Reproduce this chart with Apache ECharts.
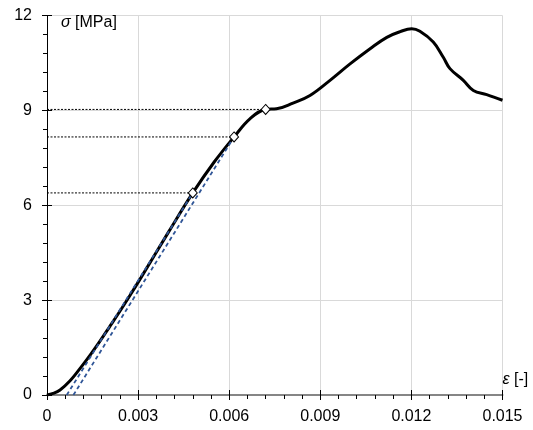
<!DOCTYPE html>
<html>
<head>
<meta charset="utf-8">
<script src="https://cdn.jsdelivr.net/npm/echarts@6/dist/echarts.min.js"></script>
<style>html,body{margin:0;padding:0;background:#fff;}#c{width:533px;height:430px;}</style>
</head>
<body>
<div id="c"></div>
<script>
// Stress-strain curve (strain [-], stress [MPa])
const strain = [0, 0.0002, 0.00043, 0.00076, 0.00109, 0.00142, 0.00175, 0.00207, 0.0024, 0.0027, 0.0031, 0.0040, 0.0048, 0.0055, 0.00616, 0.00669, 0.0072, 0.00756, 0.0081, 0.00866, 0.00932, 0.00998, 0.01064, 0.01119, 0.01163, 0.01201, 0.01228, 0.01272, 0.01305, 0.01327, 0.01371, 0.01404, 0.01448, 0.015];
const stress = [0, 0.05, 0.16, 0.45, 0.84, 1.26, 1.71, 2.17, 2.65, 3.1, 3.72, 5.15, 6.39, 7.36, 8.16, 8.74, 9.03, 9.05, 9.23, 9.47, 9.95, 10.47, 10.95, 11.31, 11.49, 11.58, 11.50, 11.16, 10.68, 10.32, 9.95, 9.63, 9.50, 9.32];
// Marked points
const markStrain = [0.0048, 0.00616, 0.0072];
const markStress = [6.39, 8.16, 9.03];
// Tangent (modulus) lines: [x0, y0, x1, y1]
const tangentA = [0.00065, 0, 0.0048, 6.39];
const tangentB = [0.00087, 0, 0.00616, 8.16];
// Axes
const xTicks = [0, 0.003, 0.006, 0.009, 0.012, 0.015];
const yTicks = [0, 3, 6, 9, 12];

const FONT = 'Liberation Sans, Arial, sans-serif';
const chart = echarts.init(document.getElementById('c'), null, {renderer: 'canvas'});

const curve = strain.map((x, i) => [x, stress[i]]);
const marks = markStrain.map((x, i) => [x, markStress[i]]);
const series = [];
marks.forEach((m, i) => {
  series.push({
    type: 'line', xAxisIndex: 0, yAxisIndex: 0, data: [[0, m[1]], m],
    symbol: 'none', lineStyle: {color: '#000', width: 1, type: [2, 1.5]}, z: 2, silent: true
  });
});
[tangentA, tangentB].forEach(t => {
  series.push({
    type: 'line', xAxisIndex: 0, yAxisIndex: 0, data: [[t[0], t[1]], [t[2], t[3]]],
    symbol: 'none', lineStyle: {color: '#2F5597', width: 1.8, type: [4, 3]}, z: 4, silent: true
  });
});
series.push({
  type: 'line', xAxisIndex: 0, yAxisIndex: 0, data: curve, smooth: 0.4,
  symbol: 'none', lineStyle: {color: '#000', width: 3}, z: 3, silent: true
});
series.push({
  type: 'scatter', xAxisIndex: 0, yAxisIndex: 0, data: marks, symbol: 'diamond', symbolSize: [9, 10],
  itemStyle: {color: '#fff', borderColor: '#000', borderWidth: 1, opacity: 1}, z: 6, silent: true
});

const grid = {left: 47, right: 30.5, top: 15.5, bottom: 35};
chart.setOption({
  animation: false,
  grid: grid,
  xAxis: [{
    type: 'value', min: xTicks[0], max: xTicks[xTicks.length - 1], interval: xTicks[1] - xTicks[0],
    name: '{i|ε} [-]', nameLocation: 'end', nameGap: 0,
    nameTextStyle: {fontFamily: FONT, fontSize: 16, color: '#000', align: 'left', verticalAlign: 'bottom', padding: [0, 0, 7, 0],
      rich: {i: {fontFamily: FONT, fontSize: 16, fontStyle: 'italic', color: '#000'}}},
    axisLine: {show: true, onZero: false, lineStyle: {color: '#868686', width: 2}},
    axisTick: {show: true, length: 5, lineStyle: {color: '#000', width: 1}},
    minorTick: {show: true, splitNumber: 5, length: 4, lineStyle: {color: '#000', width: 1}},
    axisLabel: {fontFamily: FONT, fontSize: 16, color: '#000', margin: 14,
      formatter: v => (Math.abs(v) < 1e-12 ? '0' : v.toFixed(3))},
    splitLine: {show: true, lineStyle: {color: '#D9D9D9', width: 1}},
    minorSplitLine: {show: false}
  }, {
    type: 'value', min: xTicks[0], max: xTicks[xTicks.length - 1], interval: xTicks[1] - xTicks[0],
    position: 'bottom',
    axisLine: {show: false}, axisLabel: {show: false}, splitLine: {show: false},
    axisTick: {show: true, inside: true, length: 5, lineStyle: {color: '#000', width: 1}}
  }],
  yAxis: [{
    type: 'value', min: yTicks[0], max: yTicks[yTicks.length - 1], interval: yTicks[1] - yTicks[0],
    name: '{i|σ} [MPa]', nameLocation: 'end', nameGap: -7,
    nameTextStyle: {fontFamily: FONT, fontSize: 16, color: '#000', align: 'left', verticalAlign: 'middle', padding: [0, 0, 0, 14],
      rich: {i: {fontFamily: FONT, fontSize: 16, fontStyle: 'italic', color: '#000'}}},
    axisLine: {show: true, onZero: false, lineStyle: {color: '#000', width: 1}},
    axisTick: {show: true, length: 5, lineStyle: {color: '#000', width: 1}},
    minorTick: {show: true, splitNumber: 5, length: 4, lineStyle: {color: '#000', width: 1}},
    axisLabel: {fontFamily: FONT, fontSize: 16, color: '#000', margin: 15},
    splitLine: {show: true, lineStyle: {color: '#D9D9D9', width: 1}},
    minorSplitLine: {show: false}
  }, {
    type: 'value', min: yTicks[0], max: yTicks[yTicks.length - 1], interval: yTicks[1] - yTicks[0],
    position: 'left',
    axisLine: {show: false}, axisLabel: {show: false}, splitLine: {show: false},
    axisTick: {show: true, inside: true, length: 5, lineStyle: {color: '#000', width: 1}}
  }],
  series: series
});
</script>
</body>
</html>
